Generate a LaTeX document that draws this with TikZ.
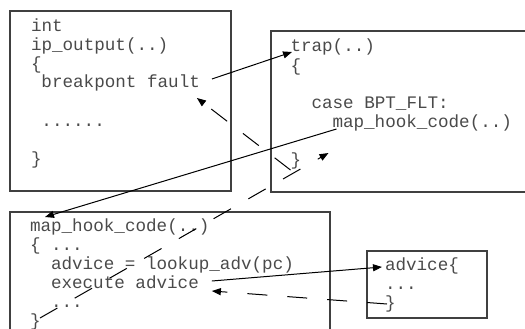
\documentclass[tikz,border=0pt]{standalone}
\usepackage{fontspec}
\setmonofont{Liberation Mono}
\usetikzlibrary{arrows.meta,calc}
\definecolor{txt}{HTML}{4A4A4A}
\definecolor{frame}{HTML}{404040}
\begin{document}
\begin{tikzpicture}[x=1pt,y=-1pt,
  code/.style={font=\ttfamily\fontsize{17.6}{19}\selectfont, text=txt, inner sep=0pt, outer sep=0pt, anchor=base west},
  box/.style={draw=frame, line width=1.2pt, anchor=north west, inner sep=0pt, outer sep=0pt},
  link/.style={draw=black, line width=1pt, -{Triangle[length=9pt,width=7pt]}},
  back/.style={link, dash pattern=on 20pt off 20pt}]
\useasboundingbox (0,0) rectangle (525,329);
\clip (0,0) rectangle (525,329);
% boxes
\node[box, minimum width=221pt, minimum height=180pt] (b1) at (10,11) {};
\node[box, minimum width=280pt, minimum height=161pt] (b2) at (271,31) {};
\node[box, minimum width=320pt, minimum height=140pt] (b3) at (10,212) {};
\node[box, minimum width=120pt, minimum height=67pt] (b4) at (367,251) {};
% box 1
\node[code] (l1a) at (31,31.5) {int};
\node[code] (l1b) at (31,50.5) {ip\_output(..)};
\node[code] (l1c) at (31,69.5) {\{};
\node[code] (bpf) at (41.5,88) {breakpont fault};
\node[code] (l1e) at (41.5,126) {......};
\node[code] (l1f) at (31,164) {\}};
% box 2
\node[code] (trap) at (290.5,52) {trap(..)};
\node[code] (l2b) at (290.5,71) {\{};
\node[code] (l2c) at (311.5,109) {case BPT\_FLT:};
\node[code] (mhc2) at (332.5,128) {map\_hook\_code(..)};
\node[code] (close2) at (290.5,165) {\}};
% box 3
\node[code] (mhc3) at (30,231.5) {map\_hook\_code(..)};
\node[code] (l3b) at (30,250.5) {\{ ...};
\node[code] (l3c) at (51,269.5) {advice = lookup\_adv(pc)};
\node[code] (exec) at (51,288.5) {execute advice};
\node[code] (l3e) at (51,307.5) {...};
\node[code] (close3) at (30,326.5) {\}};
% box 4
\node[code] (adv) at (385,270) {advice\{};
\node[code] (l4b) at (385,289) {...};
\node[code] (close4) at (385,308) {\}};
% connectors
\draw[link] ($(bpf.base east)+(12,-9)$) -- ($(trap.base west)+(1.5,0)$);
\draw[back] ($(close2.base west)+(0,5)$) -- ($(bpf.base east)+(-3,10)$);
\draw[link] ($(mhc2.base west)+(4,1)$) -- ($(mhc3.base west)+(15,-14.5)$);
\draw[back] ($(close3.base west)+(10,-8.5)$) -- ($(close2.base west)+(38,-12)$);
\draw[link] ($(exec.base east)+(13,-7.5)$) -- ($(adv.base west)+(-3,-3)$);
\draw[back] ($(close4.base west)+(2,-4)$) -- ($(exec.base east)+(13,2.5)$);
\end{tikzpicture}
\end{document}
